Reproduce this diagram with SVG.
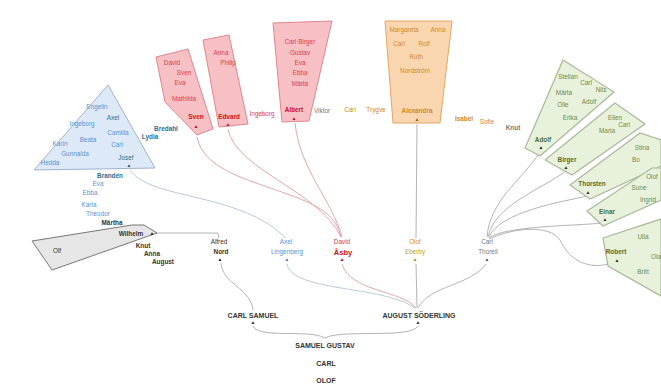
<svg xmlns="http://www.w3.org/2000/svg" width="661" height="389" viewBox="0 0 661 389">
<style>
text{font-family:"Liberation Sans",Arial,sans-serif;font-size:6.4px;text-anchor:middle}
.b{font-weight:bold}
.dk{fill:#333}
.gr{fill:#777}
.bl{fill:#5a93cf}
.tl{fill:#2f6f8c}
.rd{fill:#d8404c}
.rb{fill:#d01020;font-weight:bold}
.or{fill:#cf8a25}
.ol{fill:#b8a030}
.gn{fill:#6e8a4c}
.gb{fill:#4f6d30;font-weight:bold}
.cap{font-size:7px;font-weight:bold;fill:#333}
.pb{fill:#dde9f7;stroke:#9db3cf;stroke-width:1}
.pr{fill:#f6c0c4;stroke:#e0868e;stroke-width:1}
.po{fill:#fad6b0;stroke:#e3a664;stroke-width:1}
.pg{fill:#e8f1db;stroke:#a9b99a;stroke-width:1.2}
.pk{fill:#e6e6e6;stroke:#777;stroke-width:1}
.c{fill:none;stroke:#b4b4b4;stroke-width:1}
.cr{fill:none;stroke:#e2a7ad;stroke-width:1}
.cb{fill:none;stroke:#b9c9d8;stroke-width:1}
</style>
<defs>
<path id="dot" d="M0,-1.8 L1.6,1 L-1.6,1 Z"/>
</defs>
<rect width="661" height="389" fill="#ffffff"/>

<g id="connectors">
<path class="c" d="M156,233 L218,233 L219,238"/>
<path class="c" d="M221,263 C223,285 250,287 253,310"/>
<path class="cb" d="M130,170 C150,200 240,192 286,238"/>
<path class="cr" d="M197,137 C203,170 250,180 290,195 C322,207 336,216 341,237"/>
<path class="cr" d="M228,129 C236,170 318,190 341,237"/>
<path class="cr" d="M295,123 C300,170 332,200 342,237"/>
<path class="c" d="M417,124 L416,238"/>
<path class="c" d="M487,237 C490,200 522,180 540,152"/>
<path class="c" d="M488,237 C495,205 540,190 566,171"/>
<path class="c" d="M489,237 C500,212 560,202 588,196"/>
<path class="c" d="M489,238 C505,226 570,226 604,223"/>
<path class="c" d="M489,239 C512,228 550,224 560,240 C570,262 590,269 608,264"/>
<path class="cb" d="M287,264 C292,292 382,285 415,308"/>
<path class="cr" d="M342,264 C350,292 402,290 416,308"/>
<path class="c" d="M416,264 L417,308"/>
<path class="c" d="M486,264 C470,286 430,285 418,308"/>
<path class="c" d="M253,326 C258,339 310,329 325,338"/>
<path class="c" d="M418,326 C412,339 340,329 325,338"/>
</g>

<g id="root">
<text x="325" y="348" class="cap">SAMUEL GUSTAV</text>
<text x="326" y="366" class="cap">CARL</text>
<text x="326" y="383" class="cap">OLOF</text>
</g>
<g id="carl-samuel">
<text x="253" y="318" class="cap">CARL SAMUEL</text>
<use href="#dot" x="253" y="323" fill="#333"/>
</g>
<g id="august">
<text x="419" y="318" class="cap">AUGUST SÖDERLING</text>
<use href="#dot" x="418" y="323" fill="#333"/>
</g>

<g id="alfred">
<text x="219" y="244" class="dk">Alfred</text>
<text x="221" y="254" class="dk b">Nord</text>
<use href="#dot" x="220" y="260" fill="#222"/>
</g>
<g id="axel">
<text x="286" y="244" class="bl">Axel</text>
<text x="287" y="254" class="bl">Lingenberg</text>
<use href="#dot" x="287" y="260" fill="#4a7fb5"/>
</g>
<g id="david">
<text x="342" y="244" class="rd">David</text>
<text x="343" y="255" class="rb" style="font-size:7.5px">Åsby</text>
<use href="#dot" x="342" y="260" fill="#c01020"/>
</g>
<g id="olof">
<text x="415" y="244" class="or">Olof</text>
<text x="415" y="254" class="ol">Eberby</text>
<use href="#dot" x="415" y="260" fill="#b08a20"/>
</g>
<g id="carl-thorell">
<text x="487" y="244" class="gr">Carl</text>
<text x="488" y="254" class="gr">Thorell</text>
<use href="#dot" x="487" y="260" fill="#555"/>
</g>

<g id="gray-group">
<polygon class="pk" points="32,241 132,225 144,225 157,233 52,270"/>
<text x="57" y="253" class="dk">Olf</text>
<text x="112" y="225" class="dk b">Märtha</text>
<text x="131" y="236" class="dk b">Wilhelm</text>
<use href="#dot" x="152" y="234" fill="#222"/>
<text x="143" y="248" class="dk b">Knut</text>
<text x="152" y="256" class="dk b">Anna</text>
<text x="163" y="264" class="dk b">August</text>
</g>

<g id="blue-group">
<polygon class="pb" points="108,85 155,168 34,170"/>
<text x="97" y="109" class="bl">Engelin</text>
<text x="113" y="120" class="tl">Axel</text>
<text x="82" y="126" class="bl">Ingeborg</text>
<text x="118" y="135" class="bl">Camilla</text>
<text x="88" y="142" class="bl">Beata</text>
<text x="60" y="146" class="bl">Karin</text>
<text x="117" y="147" class="bl">Carl</text>
<text x="75" y="156" class="bl">Gunnalda</text>
<text x="126" y="160" class="tl">Josef</text>
<text x="50" y="165" class="bl">Hedda</text>
<use href="#dot" x="129" y="166" fill="#2f5f80"/>
<text x="166" y="131" class="tl b">Bredahl</text>
<text x="150" y="139" class="tl b">Lydia</text>
<text x="110" y="178" class="tl b">Brandén</text>
<text x="98" y="186" class="bl">Eva</text>
<text x="90" y="195" class="bl">Ebba</text>
<text x="89" y="207" class="bl">Karla</text>
<text x="98" y="216" class="bl">Theodor</text>
</g>

<g id="red-group-1">
<polygon class="pr" points="156,57 188,49 213,129 197,135 165,102"/>
<text x="172" y="65" class="rd">David</text>
<text x="184" y="75" class="rd">Sven</text>
<text x="180" y="85" class="rd">Eva</text>
<text x="184" y="101" class="rd">Mathilda</text>
<text x="196" y="119" class="rb">Sven</text>
<use href="#dot" x="196" y="127" fill="#c01020"/>
</g>
<g id="red-group-2">
<polygon class="pr" points="203,40 229,35 248,124 219,127"/>
<text x="221" y="55" class="rd">Anna</text>
<text x="228" y="65" class="rd">Philip</text>
<text x="229" y="119" class="rb">Edvard</text>
<use href="#dot" x="228" y="125" fill="#c01020"/>
<text x="262" y="116" class="rd">Ingeborg</text>
</g>
<g id="red-group-3">
<polygon class="pr" points="273,23 332,21 309,121 282,122"/>
<text x="300" y="44" class="rd">Carl Birger</text>
<text x="300" y="55" class="rd">Gustav</text>
<text x="300" y="65" class="rd">Eva</text>
<text x="300" y="75" class="rd">Ebba</text>
<text x="300" y="86" class="rd">Märta</text>
<text x="294" y="112" class="rb">Albert</text>
<use href="#dot" x="294" y="119" fill="#c01020"/>
<text x="322" y="113" class="gr">Viktor</text>
</g>

<g id="orange-group">
<polygon class="po" points="385,21 452,21 440,123 393,123"/>
<text x="404" y="32" class="or">Margareta</text>
<text x="438" y="32" class="or">Anna</text>
<text x="399" y="46" class="or">Carl</text>
<text x="424" y="46" class="or">Rolf</text>
<text x="416" y="59" class="or">Ruth</text>
<text x="415" y="73" class="or">Nordström</text>
<text x="417" y="113" class="or b">Alexandra</text>
<use href="#dot" x="417" y="120" fill="#a06010"/>
<text x="350" y="112" class="or">Carl</text>
<text x="376" y="112" class="or">Trygve</text>
<text x="464" y="121" class="or b">Isabel</text>
<text x="487" y="124" class="or">Sofie</text>
<text x="513" y="130" class="gr b">Knut</text>
</g>

<g id="green-adolf">
<polygon class="pg" points="563,60 614,92 540,156 525,148"/>
<text x="568" y="79" class="gn">Stellan</text>
<text x="586" y="85" class="gn">Carl</text>
<text x="601" y="92" class="gn">Nils</text>
<text x="564" y="95" class="gn">Märta</text>
<text x="563" y="107" class="gn">Olle</text>
<text x="589" y="104" class="gn">Adolf</text>
<text x="570" y="120" class="gn">Erika</text>
<text x="543" y="142" class="gb">Adolf</text>
<use href="#dot" x="541" y="148" fill="#333"/>
</g>
<g id="green-birger">
<polygon class="pg" points="545,160 615,103 645,124 572,175"/>
<text x="615" y="120" class="gn">Ellen</text>
<text x="624" y="127" class="gn">Carl</text>
<text x="607" y="133" class="gn">Maria</text>
<text x="567" y="162" class="gb">Birger</text>
<use href="#dot" x="566" y="168" fill="#333"/>
</g>
<g id="green-thorsten">
<polygon class="pg" points="570,185 640,133 661,140 661,166 590,199"/>
<text x="642" y="150" class="gn">Stina</text>
<text x="636" y="162" class="gn">Bo</text>
<text x="592" y="186" class="gb">Thorsten</text>
<use href="#dot" x="588" y="193" fill="#333"/>
</g>
<g id="green-einar">
<polygon class="pg" points="587,211 652,168 661,168 661,200 603,226"/>
<text x="652" y="179" class="gn">Olof</text>
<text x="639" y="190" class="gn">Sune</text>
<text x="648" y="202" class="gn">Ingrid</text>
<text x="607" y="214" class="gb">Einar</text>
<use href="#dot" x="605" y="220" fill="#333"/>
</g>
<g id="green-robert">
<polygon class="pg" points="603,238 661,219 661,296 608,266"/>
<text x="643" y="239" class="gn">Ulla</text>
<text x="656" y="259" class="gn">Ola</text>
<text x="643" y="274" class="gn">Britt</text>
<text x="616" y="254" class="gb">Robert</text>
<use href="#dot" x="617" y="261" fill="#333"/>
</g>
</svg>
